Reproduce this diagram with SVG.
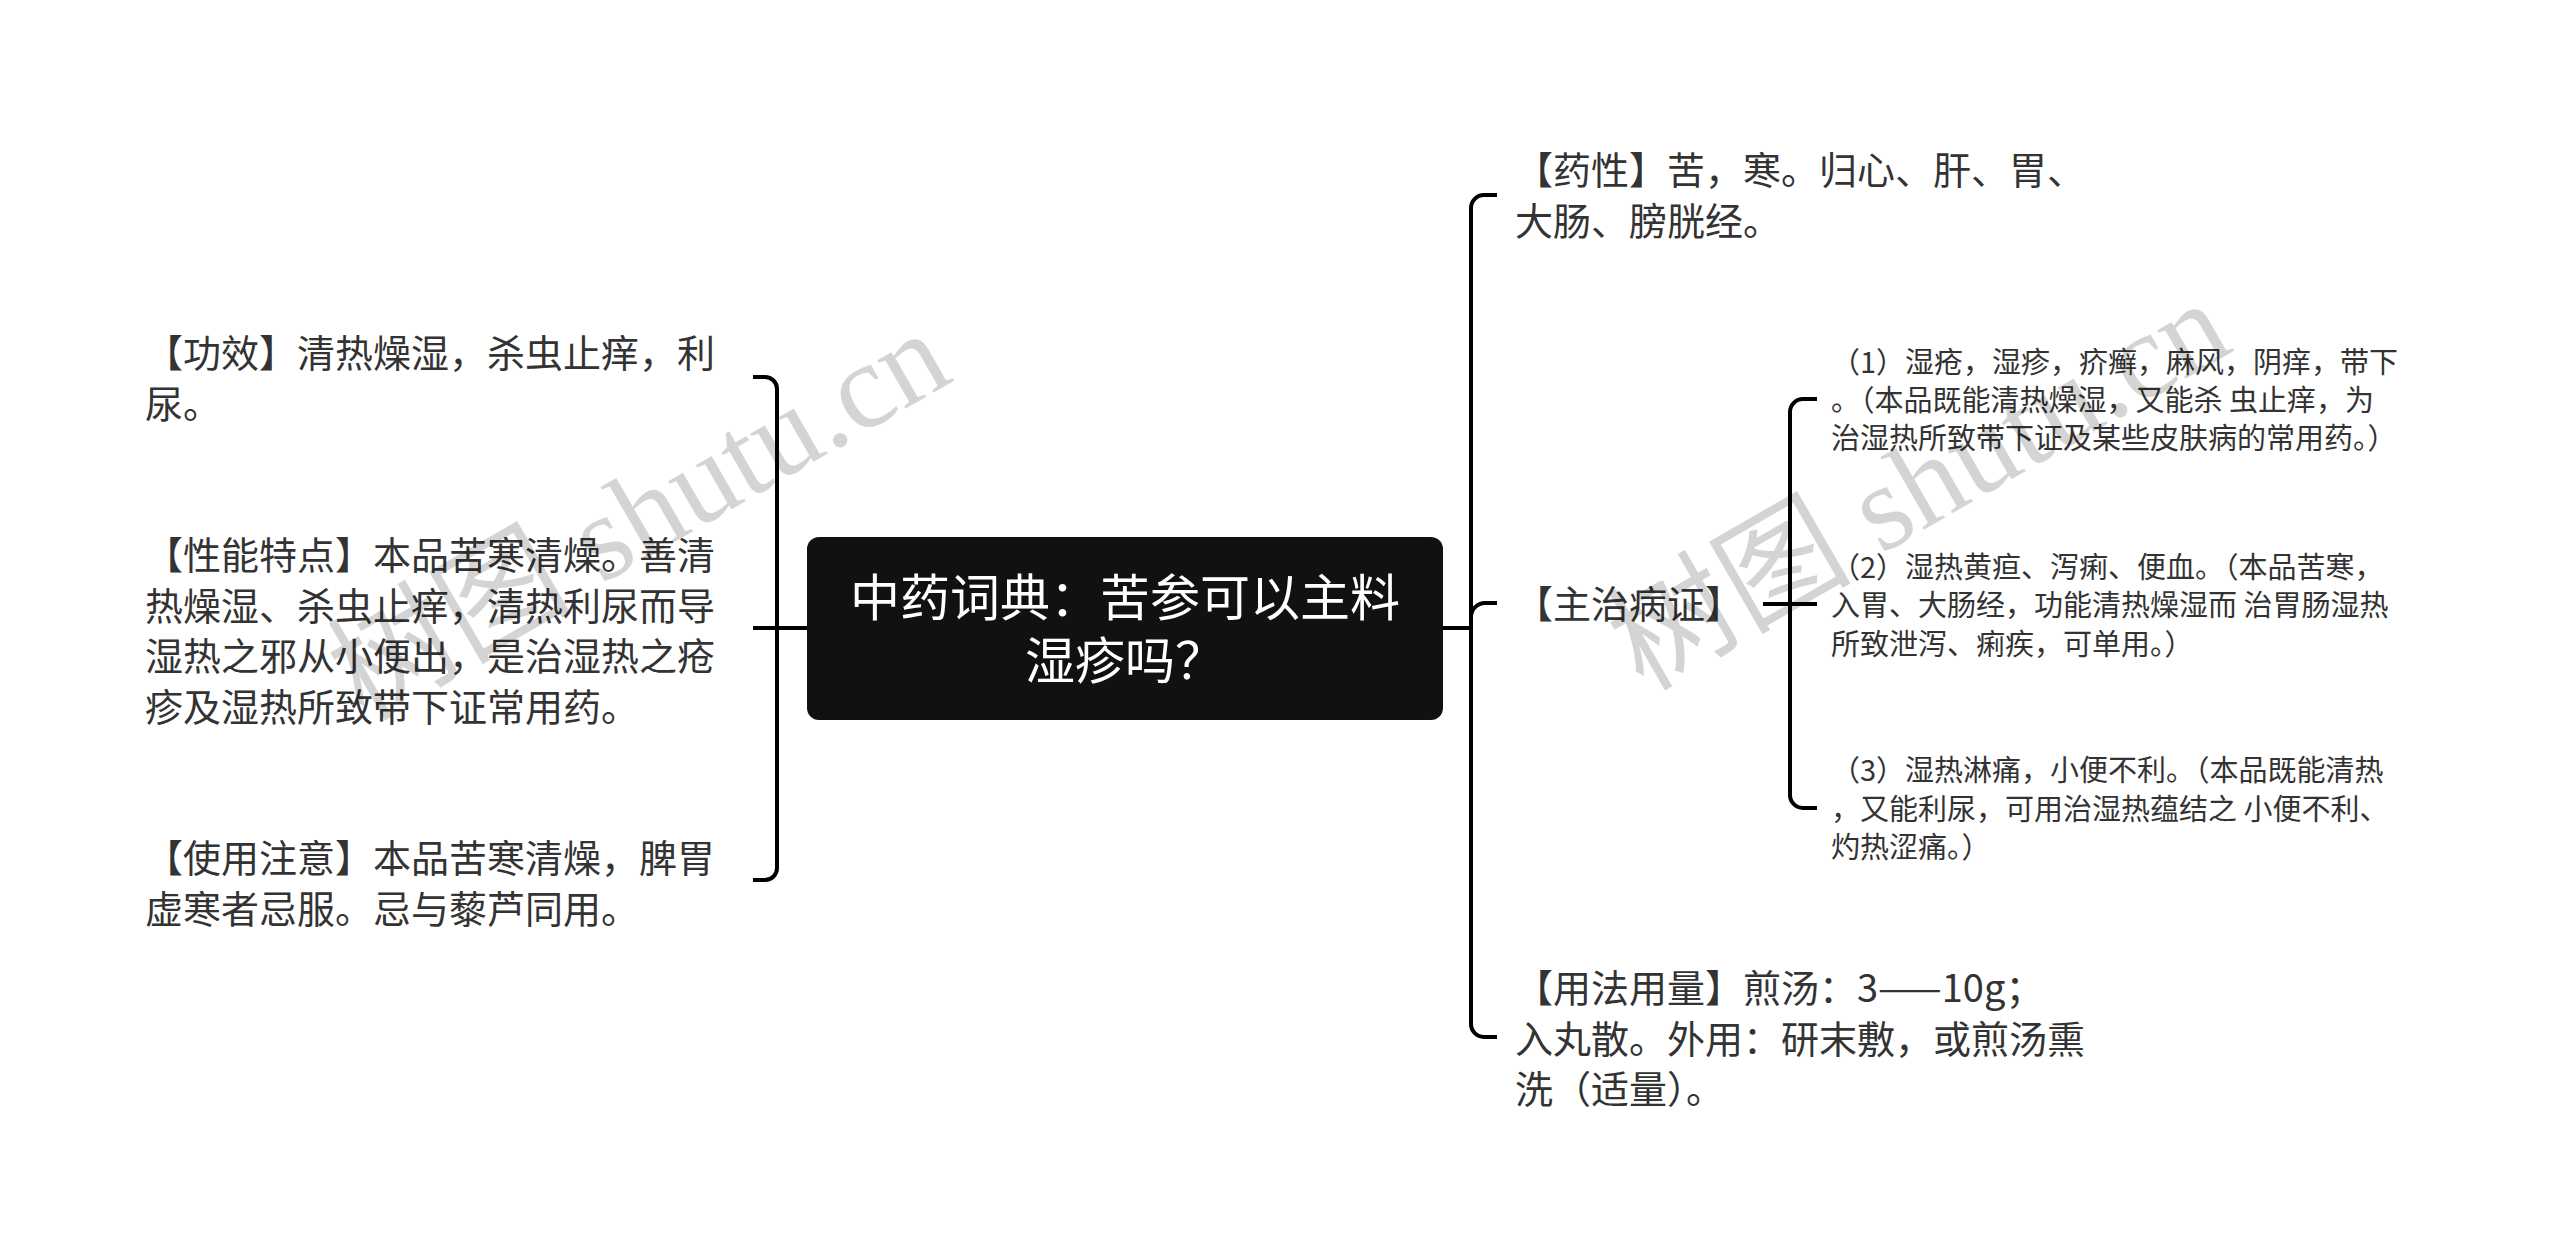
<svg xmlns="http://www.w3.org/2000/svg" width="2560" height="1259" viewBox="0 0 2560 1259">
<defs>
<style>
.bg{fill:#ffffff}
.t{font-family:"Noto Sans CJK SC","Liberation Sans",sans-serif;font-size:38px;fill:#333333}
.s{font-family:"Noto Sans CJK SC","Liberation Sans",sans-serif;font-size:29px;fill:#333333}
.c{font-family:"Noto Sans CJK SC","Liberation Sans",sans-serif;font-size:50px;fill:#ffffff;text-anchor:middle}
.ln{fill:none;stroke:#000000;stroke-width:4;stroke-linecap:butt}
.wm{font-family:"Liberation Serif","Noto Sans CJK SC",serif;font-size:122px;fill:#000000;fill-opacity:0.17}
</style>
</defs>
<rect class="bg" x="0" y="0" width="2560" height="1259"/>

<g id="connectors">
<path class="ln" d="M753 377 H765 A12 12 0 0 1 777 389 V868 A12 12 0 0 1 765 880 H753"/>
<path class="ln" d="M753 628 H807"/>
<path class="ln" d="M1443 628 H1471"/>
<path class="ln" d="M1497 195 H1484 A13 13 0 0 0 1471 208 V1024 A13 13 0 0 0 1484 1037 H1497"/>
<path class="ln" d="M1471 617 A14 14 0 0 1 1485 603 H1497"/>
<path class="ln" d="M1763 604 H1817"/>
<path class="ln" d="M1817 399 H1803 A13 13 0 0 0 1790 412 V795 A13 13 0 0 0 1803 808 H1817"/>
</g>

<g id="root">
<rect x="807" y="537" width="636" height="183" rx="12" ry="12" fill="#111111"/>
<text class="c" x="1125" y="616">中药词典：苦参可以主料</text>
<text class="c" x="1125" y="679">湿疹吗？</text>
</g>

<g id="node-gongxiao">
<text class="t" x="145" y="367">【功效】清热燥湿，杀虫止痒，利</text>
<text class="t" x="145" y="417.5">尿。</text>
</g>

<g id="node-xingneng">
<text class="t" x="145" y="569">【性能特点】本品苦寒清燥。善清</text>
<text class="t" x="145" y="619.5">热燥湿、杀虫止痒，清热利尿而导</text>
<text class="t" x="145" y="670">湿热之邪从小便出，是治湿热之疮</text>
<text class="t" x="145" y="720.5">疹及湿热所致带下证常用药。</text>
</g>

<g id="node-zhuyi">
<text class="t" x="145" y="872">【使用注意】本品苦寒清燥，脾胃</text>
<text class="t" x="145" y="922.5">虚寒者忌服。忌与藜芦同用。</text>
</g>

<g id="node-yaoxing">
<text class="t" x="1515" y="184">【药性】苦，寒。归心、肝、胃、</text>
<text class="t" x="1515" y="234.5">大肠、膀胱经。</text>
</g>

<g id="node-zhuzhi">
<text class="t" x="1515" y="618">【主治病证】</text>
</g>

<g id="node-sub1">
<text class="s" x="1831" y="373">（1）湿疮，湿疹，疥癣，麻风，阴痒，带下</text>
<text class="s" x="1831" y="411">。（本品既能清热燥湿，又能杀 虫止痒，为</text>
<text class="s" x="1831" y="449">治湿热所致带下证及某些皮肤病的常用药。）</text>
</g>

<g id="node-sub2">
<text class="s" x="1831" y="577.5">（2）湿热黄疸、泻痢、便血。（本品苦寒，</text>
<text class="s" x="1831" y="616">入胃、大肠经，功能清热燥湿而 治胃肠湿热</text>
<text class="s" x="1831" y="654.5">所致泄泻、痢疾，可单用。）</text>
</g>

<g id="node-sub3">
<text class="s" x="1831" y="781">（3）湿热淋痛，小便不利。（本品既能清热</text>
<text class="s" x="1831" y="819.5">，又能利尿，可用治湿热蕴结之 小便不利、</text>
<text class="s" x="1831" y="858">灼热涩痛。）</text>
</g>

<g id="node-yongfa">
<text class="t" x="1515" y="1002">【用法用量】煎汤：3——10g；</text>
<text class="t" x="1515" y="1052.5">入丸散。外用：研末敷，或煎汤熏</text>
<text class="t" x="1515" y="1103">洗（适量）。</text>
</g>

<g id="watermarks">
<text class="wm" transform="translate(363,722) rotate(-30)">树图 shutu.cn</text>
<text class="wm" transform="translate(1643,692) rotate(-30)">树图 shutu.cn</text>
</g>
</svg>
